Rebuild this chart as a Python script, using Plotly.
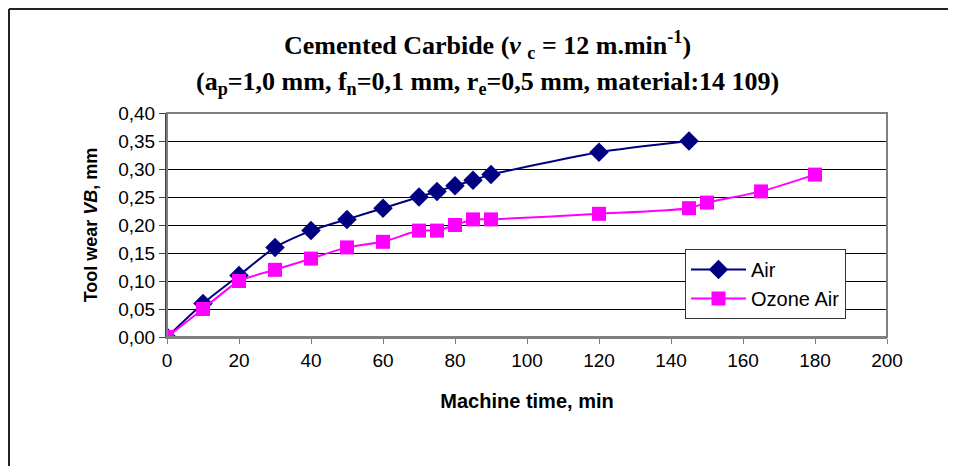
import plotly.graph_objects as go

air_t = [0, 10, 20, 30, 40, 50, 60, 70, 75, 80, 85, 90, 120, 145]
air_vb = [0.00, 0.06, 0.11, 0.16, 0.19, 0.21, 0.23, 0.25, 0.26, 0.27, 0.28, 0.29, 0.33, 0.35]
ozone_t = [0, 10, 20, 30, 40, 50, 60, 70, 75, 80, 85, 90, 120, 145, 150, 165, 180]
ozone_vb = [0.00, 0.05, 0.10, 0.12, 0.14, 0.16, 0.17, 0.19, 0.19, 0.20, 0.21, 0.21, 0.22, 0.23, 0.24, 0.26, 0.29]
x_ticks = [0, 20, 40, 60, 80, 100, 120, 140, 160, 180, 200]
y_ticks = [0.00, 0.05, 0.10, 0.15, 0.20, 0.25, 0.30, 0.35, 0.40]

NAVY = "#000080"
MAG = "#FF00FF"
SANS = "Liberation Sans, Arial, sans-serif"
SERIF = "Liberation Serif, Times New Roman, serif"

fig = go.Figure()
fig.add_trace(go.Scatter(
    x=air_t, y=air_vb, name="Air", mode="lines+markers",
    line=dict(color=NAVY, width=2, shape="spline", smoothing=0.6),
    marker=dict(symbol="diamond", size=15, color=NAVY),
))
fig.add_trace(go.Scatter(
    x=ozone_t, y=ozone_vb, name="Ozone Air", mode="lines+markers",
    line=dict(color=MAG, width=2, shape="spline", smoothing=0.6),
    marker=dict(symbol="square", size=14, color=MAG),
))

# page offset (body margin) = 8px
OFF = 8
W, H = 948, 458
L, R, T, B = 167 - OFF, 887 - OFF, 113 - OFF, 337 - OFF
pw, ph = R - L, B - T

def px(x):  # page x -> paper
    return (x - OFF - L) / pw

def py(y):  # page y -> paper
    return (B - (y - OFF)) / ph

fig.update_layout(
    width=W, height=H,
    margin=dict(l=L, r=W - R, t=T, b=H - B, pad=0),
    paper_bgcolor="white", plot_bgcolor="white",
    separators=",.",
    showlegend=True,
    legend=dict(
        x=px(685), y=py(249), xanchor="left", yanchor="top",
        bgcolor="white", bordercolor="#333333", borderwidth=1,
        font=dict(family=SANS, size=20, color="black"),
        itemwidth=55, tracegroupgap=4,
    ),
    xaxis=dict(
        range=[0, 200], tickvals=x_ticks, ticktext=[str(v) for v in x_ticks],
        showgrid=False, zeroline=False,
        showline=True, linecolor="#808080", linewidth=2,
        ticks="outside", ticklen=5, tickcolor="#808080", tickwidth=1,
        tickfont=dict(family=SANS, size=19, color="black"),
        title=dict(text="<b>Machine time, min</b>", font=dict(family=SANS, size=20, color="black"), standoff=24),
    ),
    yaxis=dict(
        range=[0, 0.40], tickvals=y_ticks, tickformat=".2f",
        showgrid=True, gridcolor="black", gridwidth=1,
        zeroline=False,
        showline=True, linecolor="#404040", linewidth=2,
        ticks="outside", ticklen=6, tickcolor="#404040", tickwidth=1,
        tickfont=dict(family=SANS, size=19, color="black"),
        title=dict(text="<b>Tool wear <i>VB</i>, mm</b>", font=dict(family=SANS, size=18, color="black"), standoff=16),
    ),
    shapes=[
        dict(type="rect", xref="paper", yref="paper", x0=0, y0=0, x1=1, y1=1,
             line=dict(color="#808080", width=2), layer="above"),
        dict(type="line", xref="paper", yref="paper",
             x0=px(9), y0=py(9), x1=px(960), y1=py(9),
             line=dict(color="#222222", width=2)),
        dict(type="line", xref="paper", yref="paper",
             x0=px(9), y0=py(9), x1=px(9), y1=py(470),
             line=dict(color="#222222", width=2)),
    ],
    annotations=[
        dict(text="<b>Cemented Carbide (<i>v</i> <sub>c</sub> = 12 m.min<sup>-1</sup>)</b>",
             xref="paper", yref="paper", x=px(487), y=py(45), xanchor="center", yanchor="middle",
             showarrow=False, font=dict(family=SERIF, size=26, color="black")),
        dict(text="<b>(a<sub>p</sub>=1,0 mm, f<sub>n</sub>=0,1 mm, r<sub>e</sub>=0,5 mm, material:14 109)</b>",
             xref="paper", yref="paper", x=px(487), y=py(83), xanchor="center", yanchor="middle",
             showarrow=False, font=dict(family=SERIF, size=26, color="black")),
    ],
)

fig.write_html("out.html")
